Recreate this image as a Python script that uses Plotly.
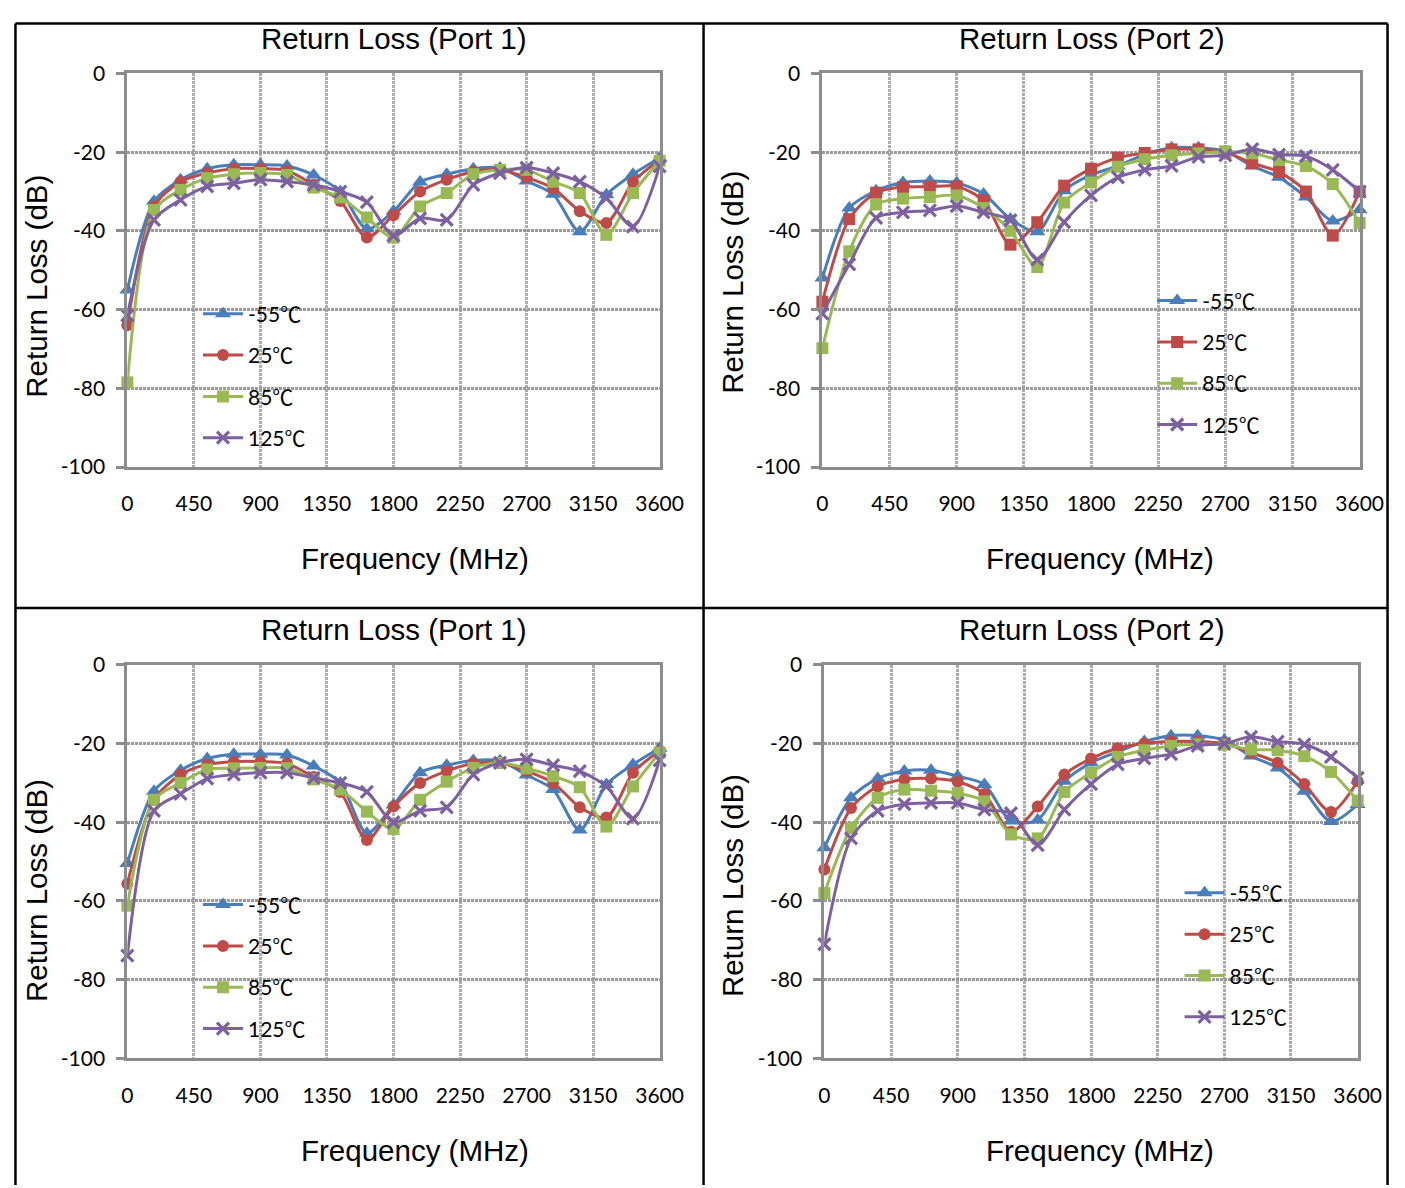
import plotly.graph_objects as go

# ---------------- data ----------------
freq = [0, 180, 360, 540, 720, 900, 1080, 1260, 1440, 1620, 1800,
        1980, 2160, 2340, 2520, 2700, 2880, 3060, 3240, 3420, 3600]
series_names = ["-55℃", "25℃", "85℃", "125℃"]

p1_top_m55 = [-55, -32.5, -27, -24.2, -23.2, -23.2, -23.5, -25.8, -30, -39.5, -35, -27.6, -25.6, -24.2, -24, -27.3, -30.7, -40.2, -30.8, -25.6, -21.5]
p1_top_25 = [-64, -33.8, -27.5, -25.3, -24.2, -24.2, -24.7, -28.3, -32.4, -41.7, -36, -30, -27, -25, -24.5, -26.4, -29.2, -35, -38, -27.6, -22]
p1_top_85 = [-78.5, -34.7, -29.6, -26.6, -25.6, -25.3, -25.8, -29, -31.5, -36.6, -41.7, -33.8, -30.4, -25.6, -24.5, -24.5, -27.5, -30.4, -41, -30.4, -22.2]
p1_top_125 = [-61.5, -37.2, -32.1, -28.7, -27.9, -27, -27.5, -28.3, -30, -32.7, -41.2, -36.8, -37.2, -28.3, -25.3, -23.9, -25.3, -27.5, -31.7, -38.9, -23.6]

p2_top_m55 = [-52, -34.2, -29.8, -27.7, -27.3, -27.8, -30.6, -37, -40.2, -29.8, -25.8, -23.5, -20.6, -18.9, -18.9, -19.8, -23.5, -26.4, -31.4, -37.5, -34.6]
p2_top_25 = [-58, -37, -30.3, -28.9, -28.8, -28.7, -32.3, -43.5, -37.8, -28.5, -24.2, -21.4, -20.2, -19.3, -19.3, -20, -22.8, -25, -30, -41.2, -30]
p2_top_85 = [-69.8, -45.2, -33.3, -31.8, -31.4, -31, -34.2, -40, -49.2, -32.8, -27.7, -23.7, -21.8, -20.8, -20.3, -19.8, -20.3, -22, -23.5, -28.1, -38]
p2_top_125 = [-61, -48.5, -36.7, -35.3, -34.8, -33.7, -35.3, -37.3, -47.3, -37.8, -31, -26.4, -24.5, -23.5, -21.2, -20.8, -19.2, -20.6, -21, -24.5, -30]

p1_bot_m55 = [-50.5, -32.1, -26.8, -23.8, -22.7, -22.7, -22.9, -25.7, -30, -42.8, -35.6, -27.4, -25.5, -24.3, -24.4, -28, -31.7, -42, -30.4, -25.3, -21.2]
p1_bot_25 = [-55.6, -34.3, -27.9, -25.3, -24.6, -24.6, -25.1, -28.5, -32.3, -44.5, -36, -30, -27, -25.1, -24.9, -27, -30, -36.2, -38.8, -27.4, -21.9]
p1_bot_85 = [-61.2, -34.3, -30, -26.6, -26.3, -26.2, -26.3, -29.1, -31.7, -37.3, -41.7, -34.3, -29.7, -26.2, -24.9, -26.3, -28.3, -31.1, -41.1, -30.9, -22.3]
p1_bot_125 = [-73.9, -37.1, -32.8, -28.9, -27.9, -27.4, -27.4, -28.7, -30, -32.3, -40, -37.1, -36.2, -27.9, -24.9, -24, -25.5, -27, -30.9, -39.1, -24.3]

p2_bot_m55 = [-46.5, -33.8, -28.9, -27, -26.8, -28.3, -30.4, -39.7, -39.4, -29.6, -24.9, -22.1, -19.5, -18, -18, -19.1, -23.2, -26.2, -32.1, -39.8, -35.5]
p2_bot_25 = [-52, -36.4, -30.9, -29.1, -28.9, -29.7, -32.8, -42.4, -36, -27.9, -23.8, -21.2, -20, -19.5, -19.5, -20, -22.3, -24.9, -30.3, -37.4, -29.6]
p2_bot_85 = [-58, -41.5, -33.8, -31.7, -32, -32.6, -34.7, -43.1, -44.1, -32.3, -27.4, -23.4, -21.7, -20.6, -20.2, -20.3, -21.5, -21.7, -23.2, -27.2, -34.5]
p2_bot_125 = [-71, -44.1, -37.1, -35.4, -35.1, -35.1, -36.8, -37.7, -45.8, -36.8, -30.3, -25.3, -23.8, -22.7, -20.6, -20, -18.3, -19.5, -20.2, -23.4, -28.7]

x_tickvals = [0, 450, 900, 1350, 1800, 2250, 2700, 3150, 3600]
x_ticktext = ["0", "450", "900", "1350", "1800", "2250", "2700", "3150", "3600"]
y_tickvals = [-100, -80, -60, -40, -20, 0]
y_ticktext = ["-100", "-80", "-60", "-40", "-20", "0"]

panel_titles = ["Return Loss (Port 1)", "Return Loss (Port 2)",
                "Return Loss (Port 1)", "Return Loss (Port 2)"]
x_title = "Frequency (MHz)"
y_title = "Return Loss (dB)"

# ---------------- styling ----------------
colors = ["#4A7EBB", "#BE4B48", "#98B954", "#7D60A0"]
W, H = 1405, 1188
S, OX, OY = 0.98, 12.5, 20.5   # observed render transform (output = S*fig + offset)


def Fx(t):
    return (t - OX) / S


def Fy(t):
    return (t - OY) / S


def px(t):   # target x pixel -> paper
    return Fx(t) / W


def py(t):   # target y pixel -> paper
    return 1 - Fy(t) / H


# panel geometry in target pixels: (x0, x1, y_top, y_bottom)
panels = [
    dict(box=(126, 659, 72, 466), data=[p1_top_m55, p1_top_25, p1_top_85, p1_top_125],
         syms=["triangle-up", "circle", "square", "x-thin"], leg=(188, 277.5),
         ytc=285, xtc=414, ytx=35),
    dict(box=(822, 1360, 72, 466), data=[p2_top_m55, p2_top_25, p2_top_85, p2_top_125],
         syms=["triangle-up", "square", "square", "x-thin"], leg=(1163, 264),
         ytc=281, xtc=1100, ytx=732),
    dict(box=(126, 659, 664, 1058), data=[p1_bot_m55, p1_bot_25, p1_bot_85, p1_bot_125],
         syms=["triangle-up", "circle", "square", "x-thin"], leg=(188, 881),
         ytc=890, xtc=414, ytx=35),
    dict(box=(824, 1358, 664, 1058), data=[p2_bot_m55, p2_bot_25, p2_bot_85, p2_bot_125],
         syms=["triangle-up", "circle", "square", "x-thin"], leg=(1191, 869),
         ytc=885, xtc=1100, ytx=732),
]

title_font = dict(family="Liberation Sans, Arial, sans-serif", size=29.5, color="#000000")
tick_font = dict(family="Lato, 'Noto Sans CJK SC', sans-serif", size=21, color="#000000")
leg_font = dict(family="Lato, 'Noto Sans CJK SC', sans-serif", size=21, color="#000000")

fig = go.Figure()
layout = dict(
    width=W, height=H,
    margin=dict(l=0, r=0, t=0, b=0),
    paper_bgcolor="white", plot_bgcolor="white",
    showlegend=True,
    annotations=[], shapes=[],
)

for i, p in enumerate(panels):
    k = "" if i == 0 else str(i + 1)
    x0, x1, yt, yb = p["box"]
    for j in range(4):
        sym = p["syms"][j]
        msize = 14 if sym == "triangle-up" else 12
        marker = dict(symbol=sym, size=msize, color=colors[j])
        if sym == "x-thin":
            marker["line"] = dict(color=colors[j], width=3.2)
        fig.add_trace(go.Scatter(
            x=freq, y=p["data"][j], name=series_names[j],
            mode="lines+markers",
            line=dict(color=colors[j], width=3, shape="spline", smoothing=0.8),
            marker=marker,
            xaxis="x" + k, yaxis="y" + k,
            legend="legend" + k,
            legendgroup=f"g{i}_{j}",
            cliponaxis=False,
        ))
    common = dict(showline=True, mirror=True, linecolor="#8C8C8C", linewidth=3,
                  showgrid=True, zeroline=False, tickfont=tick_font)
    layout["xaxis" + k] = dict(
        domain=[px(x0), px(x1)], range=[0, 3600], anchor="y" + k,
        tickmode="array", tickvals=x_tickvals, ticktext=x_ticktext,
        gridcolor="#ADADAD", gridwidth=2.5, griddash="3px,1px",
        ticks="", ticklabelstandoff=16, **common)
    layout["yaxis" + k] = dict(
        domain=[py(yb), py(yt)], range=[-100, 0], anchor="x" + k,
        tickmode="array", tickvals=y_tickvals, ticktext=y_ticktext,
        gridcolor="#9A9A9A", gridwidth=2.5, griddash="3px,1px",
        ticks="outside", ticklen=8, tickwidth=3, tickcolor="#8C8C8C",
        ticklabelstandoff=7, **common)
    lx, ly = p["leg"]
    layout["legend" + k] = dict(
        x=lx / W, y=1 - ly / H, xanchor="left", yanchor="top",
        bgcolor="rgba(0,0,0,0)", font=leg_font,
        traceorder="grouped", tracegroupgap=11, itemwidth=40,
    )
    layout["annotations"].append(dict(
        text=panel_titles[i], x=px((x0 + x1) / 2 + 1), y=py(yt - 35), xref="paper", yref="paper",
        xanchor="center", yanchor="middle", showarrow=False, font=title_font))
    layout["annotations"].append(dict(
        text=x_title, x=px(p["xtc"]), y=py(yb + 92), xref="paper", yref="paper",
        xanchor="center", yanchor="middle", showarrow=False, font=title_font))
    layout["annotations"].append(dict(
        text=y_title, x=px(p["ytx"]), y=py(p["ytc"]), xref="paper", yref="paper",
        xanchor="center", yanchor="middle", textangle=-90, showarrow=False, font=title_font))

# table borders (clamped into the figure where the target lies outside it)
blk = dict(color="black", width=2.5)
top = min(1 - 1.5 / H, py(7))
left = max(1.5 / W, px(6))
right = min(1 - 1.5 / W, px(1399))
for shp in [
    dict(x0=left, x1=right, y0=top, y1=top),
    dict(x0=left, x1=left, y0=0, y1=top),
    dict(x0=right, x1=right, y0=0, y1=top),
    dict(x0=px(703), x1=px(703), y0=0, y1=top),
    dict(x0=left, x1=right, y0=py(607), y1=py(607)),
]:
    layout["shapes"].append(dict(type="line", xref="paper", yref="paper", line=blk, **shp))

fig.update_layout(**layout)
fig.write_html("out.html")
